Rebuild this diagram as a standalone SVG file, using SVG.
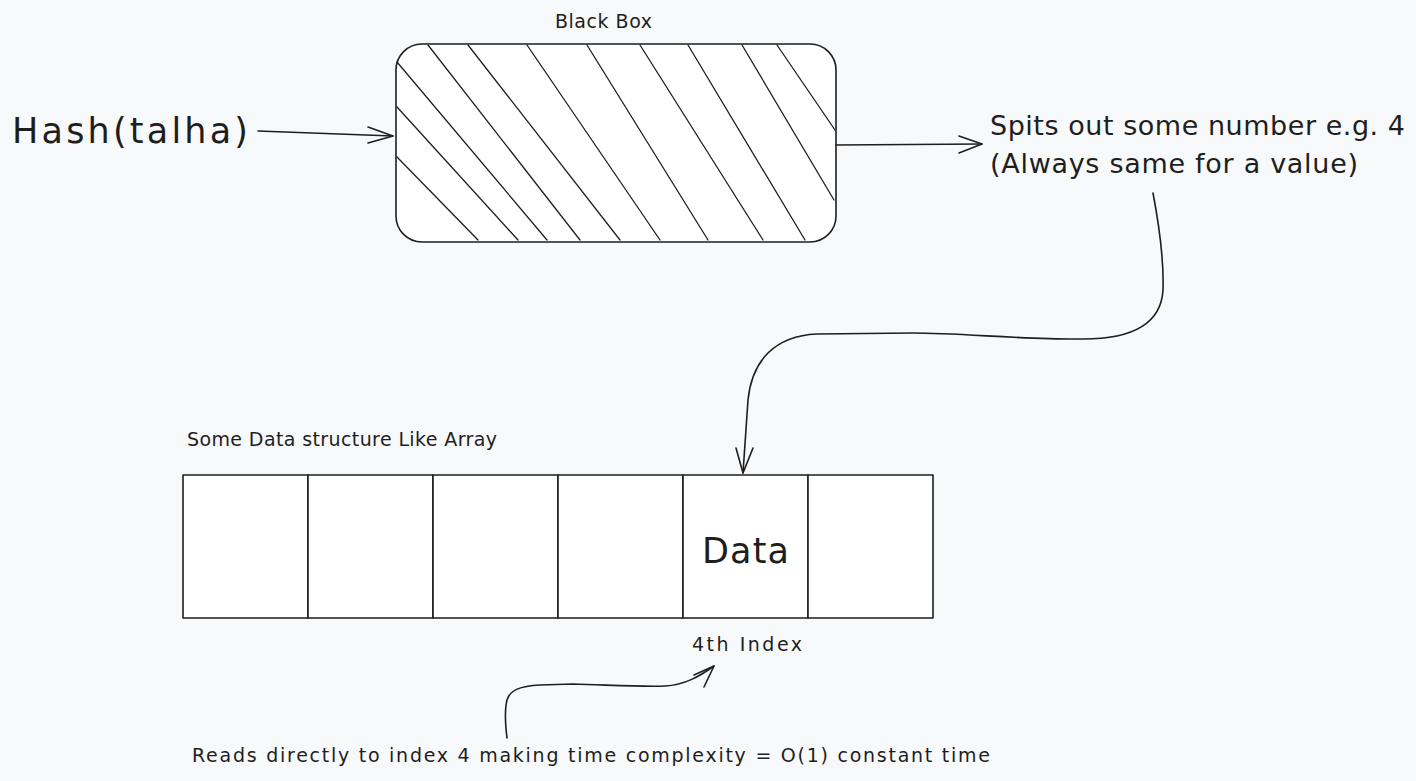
<svg xmlns="http://www.w3.org/2000/svg" width="1416" height="781" viewBox="0 0 1416 781">
<style>
.bg{fill:#f8f9fa}
.shape{fill:#ffffff;stroke:#1e1e1e;stroke-width:1.6;stroke-linejoin:round}
.hatch{fill:none;stroke:#1e1e1e;stroke-width:1.3;stroke-linecap:round}
.conn{fill:none;stroke:#1e1e1e;stroke-width:1.6;stroke-linecap:round;stroke-linejoin:round}
.t{font-family:"DejaVu Sans","Liberation Sans",sans-serif;fill:#1e1e1e}
.s20{font-size:19px}
.s28{font-size:27px}
.s36{font-size:35px}
</style>
<rect class="bg" x="0" y="0" width="1416" height="781"/>

<g id="black-box">
  <rect class="shape" x="396" y="44" width="440" height="198" rx="26" ry="26"/>
  <g class="hatch">
    <line x1="397" y1="157" x2="478" y2="240"/>
    <line x1="397" y1="107" x2="518" y2="240"/>
    <line x1="397" y1="62" x2="547" y2="240"/>
    <line x1="428" y1="45" x2="580" y2="240"/>
    <line x1="468" y1="45" x2="620" y2="240"/>
    <line x1="527" y1="45" x2="660" y2="240"/>
    <line x1="587" y1="45" x2="708" y2="240"/>
    <line x1="640" y1="45" x2="763" y2="240"/>
    <line x1="688" y1="45" x2="805" y2="240"/>
    <line x1="742" y1="45" x2="834" y2="200"/>
    <line x1="777" y1="45" x2="835" y2="130"/>
  </g>
  <text class="t s20" x="555" y="28" textLength="97">Black Box</text>
</g>

<g id="hash-input">
  <text class="t s36" x="12" y="143" textLength="236">Hash(talha)</text>
</g>

<g id="output-text">
  <text class="t s28" x="990" y="135" textLength="415">Spits out some number e.g. 4</text>
  <text class="t s28" x="990" y="173" textLength="368">(Always same for a value)</text>
</g>

<g id="array-label">
  <text class="t s20" x="187" y="446" textLength="310">Some Data structure Like Array</text>
</g>

<g id="array">
  <g id="cell-0"><rect class="shape" x="183" y="475" width="125" height="143"/></g>
  <g id="cell-1"><rect class="shape" x="308" y="475" width="125" height="143"/></g>
  <g id="cell-2"><rect class="shape" x="433" y="475" width="125" height="143"/></g>
  <g id="cell-3"><rect class="shape" x="558" y="475" width="125" height="143"/></g>
  <g id="cell-4">
    <rect class="shape" x="683" y="475" width="125" height="143"/>
    <text class="t s36" x="702" y="563" textLength="87">Data</text>
  </g>
  <g id="cell-5"><rect class="shape" x="808" y="475" width="125" height="143"/></g>
</g>

<g id="index-label">
  <text class="t s20" x="692" y="651" textLength="110">4th Index</text>
</g>

<g id="caption">
  <text class="t s20" x="192" y="762" textLength="798">Reads directly to index 4 making time complexity = O(1) constant time</text>
</g>

<g id="connectors">
  <path class="conn" d="M258,131 L393,136"/>
  <path class="conn" d="M368,127 L393,136 L368,143"/>
  <path class="conn" d="M836,145 L982,144"/>
  <path class="conn" d="M959,136 L982,144 L959,153"/>
  <path class="conn" d="M1153,193 C1160,230 1164,260 1163,290 C1161,325 1130,339 1083,339 C1030,340 960,333 913,333 L817,334 C775,336 752,360 748,400 L743,473"/>
  <path class="conn" d="M736,448 L743,473 L753,448"/>
  <path class="conn" d="M507,738 C505,722 505,708 507,700 C510,690 520,686 540,685 L573,684 C610,685 644,687 665,686 C685,685 700,676 714,666"/>
  <path class="conn" d="M694,675 L714,666 L704,687"/>
</g>
</svg>
